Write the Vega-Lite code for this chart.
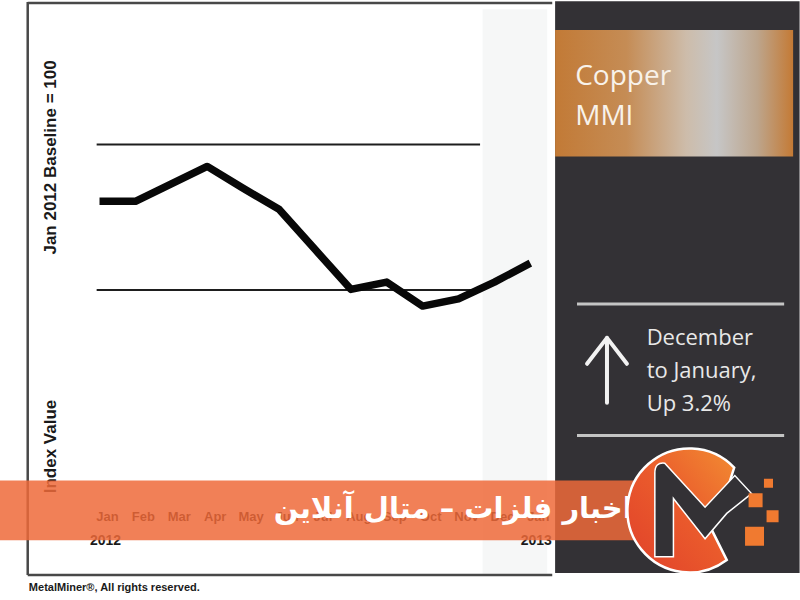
{
  "$schema": "https://vega.github.io/schema/vega-lite/v6.json",
  "width": 800,
  "height": 600,
  "autosize": {"type": "fit", "contains": "padding"},
  "padding": 0,
  "background": "white",
  "config": {"view": {"stroke": null}},
  "datasets": {
    "line": [
      {"month": "Jan 2012", "m": 0, "v": 102.2},
      {"month": "Feb 2012", "m": 1, "v": 102.2},
      {"month": "Mar 2012", "m": 2, "v": 104.6},
      {"month": "Apr 2012", "m": 3, "v": 107.0},
      {"month": "May 2012", "m": 4, "v": 104.0},
      {"month": "Jun 2012", "m": 5, "v": 101.1},
      {"month": "Jul 2012", "m": 6, "v": 95.6},
      {"month": "Aug 2012", "m": 7, "v": 90.1},
      {"month": "Sep 2012", "m": 8, "v": 91.1},
      {"month": "Oct 2012", "m": 9, "v": 87.8},
      {"month": "Nov 2012", "m": 10, "v": 88.8},
      {"month": "Dec 2012", "m": 11, "v": 91.1},
      {"month": "Jan 2013", "m": 12, "v": 93.7}
    ],
    "grid": [
      {"m": -0.08, "m2": 10.6, "v": 110, "v2": 110},
      {"m": -0.08, "m2": 10.6, "v": 90, "v2": 90}
    ],
    "band": [{"m": 10.67, "m2": 12.47, "v": 128.6, "v2": 51.0}],
    "frame": [
      {"m": -2.0, "m2": -2.0, "v": 129.6, "v2": 50.82},
      {"m": -2.0, "m2": 12.61, "v": 50.82, "v2": 50.82},
      {"m": -2.0, "m2": 12.61, "v": 129.45, "v2": 129.45}
    ],
    "months": [
      {"m": 0, "v": 58.77, "label": "Jan"},
      {"m": 1, "v": 58.77, "label": "Feb"},
      {"m": 2, "v": 58.77, "label": "Mar"},
      {"m": 3, "v": 58.77, "label": "Apr"},
      {"m": 4, "v": 58.77, "label": "May"},
      {"m": 5, "v": 58.77, "label": "Jun"},
      {"m": 6, "v": 58.77, "label": "Jul"},
      {"m": 7, "v": 58.77, "label": "Aug"},
      {"m": 8, "v": 58.77, "label": "Sep"},
      {"m": 9, "v": 58.77, "label": "Oct"},
      {"m": 10, "v": 58.77, "label": "Nov"},
      {"m": 11, "v": 58.77, "label": "Dec"},
      {"m": 12, "v": 58.77, "label": "Jan"}
    ],
    "years": [
      {"m": 0, "v": 55.48, "label": "2012"},
      {"m": 12, "v": 55.48, "label": "2013"}
    ],
    "ytitles": [
      {"m": -1.358, "v": 108.23, "label": "Jan 2012 Baseline = 100"},
      {"m": -1.358, "v": 68.5, "label": "Index Value"}
    ],
    "footer": [{"m": -1.968, "v": 49.04, "label": "MetalMiner®, All rights reserved."}],
    "panel": [{"m": 12.69, "m2": 19.5, "v": 129.7, "v2": 51.1}],
    "copperbox": [{"m": 12.69, "m2": 19.32, "v": 125.76, "v2": 108.36}],
    "coppertext": [
      {"m": 13.25, "v": 118.23, "label": "Copper"},
      {"m": 13.25, "v": 112.75, "label": "MMI"}
    ],
    "separators": [
      {"m": 13.3, "m2": 19.07, "v": 88.09, "v2": 88.09},
      {"m": 13.3, "m2": 19.07, "v": 70.0, "v2": 70.0}
    ],
    "arrow": [
      {"m": 14.135, "m2": 14.135, "v": 83.3, "v2": 74.52},
      {"m": 13.58, "m2": 14.135, "v": 79.87, "v2": 83.43},
      {"m": 14.69, "m2": 14.135, "v": 79.87, "v2": 83.43}
    ],
    "change": [
      {"m": 15.24, "v": 82.47, "label": "December"},
      {"m": 15.24, "v": 77.95, "label": "to January,"},
      {"m": 15.24, "v": 73.43, "label": "Up 3.2%"}
    ],
    "banner": [{"m": -2.772, "m2": 14.97, "v": 63.84, "v2": 55.62}],
    "bannertext": [{"m": 14.85, "v": 59.9, "label": "اخبار فلزات – متال آنلاین"}],
    "logo": [{"m": 16.435, "v": 59.73}]
  },
  "encoding": {
    "x": {"field": "m", "type": "quantitative", "axis": null, "scale": {"domain": [-2.772, 19.4], "nice": false, "zero": false}},
    "y": {"field": "v", "type": "quantitative", "axis": null, "scale": {"domain": [47.4, 129.6], "nice": false, "zero": false}}
  },
  "layer": [
    {
      "data": {"name": "band"},
      "mark": {"type": "rect", "color": "#f6f7f7"},
      "encoding": {"x2": {"field": "m2"}, "y2": {"field": "v2"}}
    },
    {
      "data": {"name": "frame"},
      "mark": {"type": "rule", "color": "#484848", "strokeWidth": 2.5},
      "encoding": {"x2": {"field": "m2"}, "y2": {"field": "v2"}}
    },
    {
      "data": {"name": "grid"},
      "mark": {"type": "rule", "color": "#1e1e1e", "strokeWidth": 2},
      "encoding": {"x2": {"field": "m2"}, "y2": {"field": "v2"}}
    },
    {
      "data": {"name": "line"},
      "mark": {"type": "line", "color": "#080808", "strokeWidth": 7.5, "strokeJoin": "round", "strokeCap": "butt"},
      "encoding": {}
    },
    {
      "data": {"name": "months"},
      "mark": {"type": "text", "font": "Liberation Sans", "fontWeight": "bold", "fontSize": 13, "color": "#111111", "align": "center", "baseline": "middle", "dx": 8},
      "encoding": {"text": {"field": "label"}}
    },
    {
      "data": {"name": "years"},
      "mark": {"type": "text", "font": "Liberation Sans", "fontWeight": "bold", "fontSize": 14, "color": "#1a1a1a", "align": "center", "baseline": "middle", "dx": 6},
      "encoding": {"text": {"field": "label"}}
    },
    {
      "data": {"name": "ytitles"},
      "mark": {"type": "text", "font": "Liberation Sans", "fontWeight": "bold", "fontSize": 17, "color": "#1a1a1a", "align": "center", "baseline": "middle", "angle": 270},
      "encoding": {"text": {"field": "label"}}
    },
    {
      "data": {"name": "footer"},
      "mark": {"type": "text", "font": "Liberation Sans", "fontWeight": "bold", "fontSize": 11, "color": "#1a1a1a", "align": "left", "baseline": "middle"},
      "encoding": {"text": {"field": "label"}}
    },
    {
      "data": {"name": "panel"},
      "mark": {"type": "rect", "color": "#333135"},
      "encoding": {"x2": {"field": "m2"}, "y2": {"field": "v2"}}
    },
    {
      "data": {"name": "copperbox"},
      "mark": {
        "type": "rect",
        "color": {
          "gradient": "linear", "x1": 0, "y1": 0, "x2": 1, "y2": 0,
          "stops": [
            {"offset": 0, "color": "#c27a36"},
            {"offset": 0.3, "color": "#c58c55"},
            {"offset": 0.55, "color": "#cdbcaa"},
            {"offset": 0.68, "color": "#c6c6c6"},
            {"offset": 0.85, "color": "#bda58c"},
            {"offset": 1, "color": "#c47a35"}
          ]
        }
      },
      "encoding": {"x2": {"field": "m2"}, "y2": {"field": "v2"}}
    },
    {
      "data": {"name": "coppertext"},
      "mark": {"type": "text", "font": "Open Sans", "fontSize": 28, "color": "#f8f2ea", "align": "left", "baseline": "alphabetic"},
      "encoding": {"text": {"field": "label"}}
    },
    {
      "data": {"name": "separators"},
      "mark": {"type": "rule", "color": "#c4c4c4", "strokeWidth": 3},
      "encoding": {"x2": {"field": "m2"}, "y2": {"field": "v2"}}
    },
    {
      "data": {"name": "arrow"},
      "mark": {"type": "rule", "color": "#f2f2f2", "strokeWidth": 4, "strokeCap": "round"},
      "encoding": {"x2": {"field": "m2"}, "y2": {"field": "v2"}}
    },
    {
      "data": {"name": "change"},
      "mark": {"type": "text", "font": "Open Sans", "fontSize": 22, "color": "#e8e8e8", "align": "left", "baseline": "alphabetic"},
      "encoding": {"text": {"field": "label"}}
    },
    {
      "data": {"name": "banner"},
      "mark": {"type": "rect", "color": "#ee6a3a", "opacity": 0.85},
      "encoding": {"x2": {"field": "m2"}, "y2": {"field": "v2"}}
    },
    {
      "data": {"name": "bannertext"},
      "mark": {"type": "text", "font": "DejaVu Sans", "fontWeight": "bold", "fontSize": 29, "color": "#ffffff", "align": "right", "baseline": "middle"},
      "encoding": {"text": {"field": "label"}}
    },
    {
      "data": {"name": "logo"},
      "mark": {
        "type": "point", "filled": true, "opacity": 1, "size": 15376,
        "shape": "M0.72,-0.69 A1,1 0 1,0 0.6,0.8 L0.35,0.3 L0.5,0.0 Z",
        "fill": {
          "gradient": "linear", "x1": 0, "y1": 1, "x2": 1, "y2": 0,
          "stops": [{"offset": 0, "color": "#e0402a"}, {"offset": 0.5, "color": "#ea5a2c"}, {"offset": 1, "color": "#f28c32"}]
        },
        "stroke": "#ffffff", "strokeWidth": 2.5
      },
      "encoding": {}
    },
    {
      "data": {"name": "logo"},
      "mark": {
        "type": "point", "filled": true, "opacity": 1, "size": 15376,
        "shape": "M-0.56,0.75 L-0.56,-0.6 Q-0.56,-0.78 -0.4,-0.76 L0.25,-0.05 L0.73,-0.56 L1.0,-0.27 L0.6,0.05 L0.25,0.46 L-0.26,-0.19 L-0.26,0.75 Z",
        "fill": "#333135", "stroke": "#ffffff", "strokeWidth": 1.5
      },
      "encoding": {}
    },
    {
      "data": {"name": "logo"},
      "mark": {
        "type": "point", "filled": true, "opacity": 1, "size": 15376,
        "shape": "M1.2,-0.508 h0.146 v0.146 h-0.146 Z M0.952,-0.274 h0.226 v0.226 h-0.226 Z M1.242,0 h0.194 v0.194 h-0.194 Z M0.895,0.266 h0.306 v0.306 h-0.306 Z",
        "fill": "#f07a30", "strokeWidth": 0
      },
      "encoding": {}
    }
  ]
}
